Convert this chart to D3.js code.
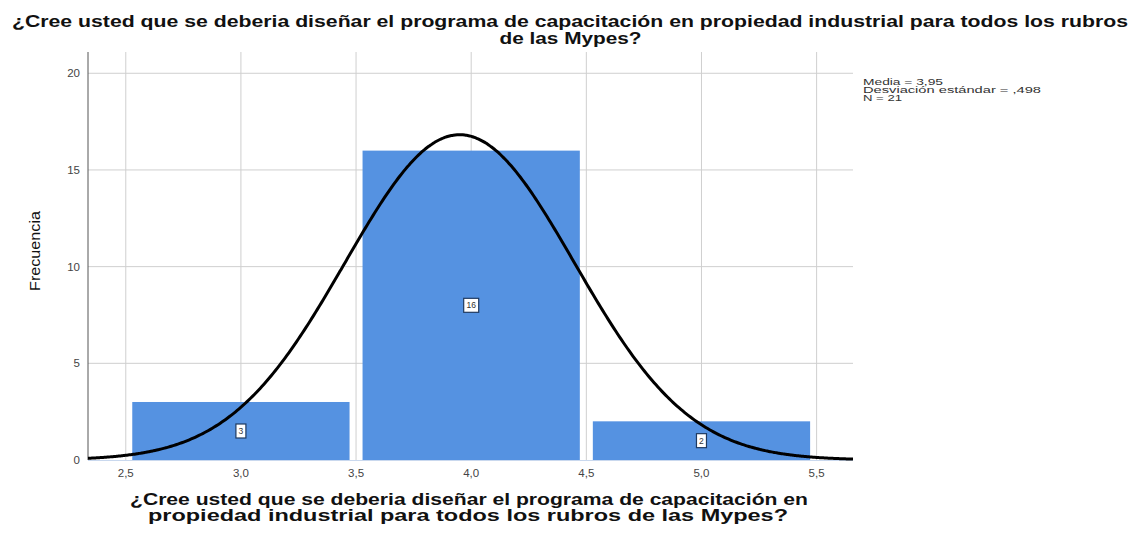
<!DOCTYPE html>
<html><head><meta charset="utf-8">
<script src="https://cdn.jsdelivr.net/npm/d3@7"></script>
<style>body{margin:0;background:#fff}svg{display:block}text{font-family:"Liberation Sans",Arial,sans-serif}</style>
</head><body><svg id="c" width="1131" height="533"></svg>
<script>
const binStarts = [2.5, 3.5, 4.5];
const binEnds = [3.5, 4.5, 5.5];
const counts = [3, 16, 2];
const xTicks = [2.5, 3.0, 3.5, 4.0, 4.5, 5.0, 5.5];
const yTicks = [0, 5, 10, 15, 20];
const mean = 3.95, sd = 0.498, N = 21, binWidth = 1;
const statLines = ["Media = 3,95", "Desviación estándar = ,498", "N = 21"];
const titleLines = ["¿Cree usted que se deberia diseñar el programa de capacitación en propiedad industrial para todos los rubros", "de las Mypes?"];
const xTitleLines = ["¿Cree usted que se deberia diseñar el programa de capacitación en", "propiedad industrial para todos los rubros de las Mypes?"];
const yTitle = "Frecuencia";

const svg = d3.select("#c");
const L = 88, R = 853, T = 52, B = 460;
const x = d3.scaleLinear().domain([2.336, 5.658]).range([L, R]);
const y = d3.scaleLinear().domain([0, 21.1]).range([B, T]);
const fmt = d => d3.format(".1f")(d).replace(".", ",");

// gridlines
svg.append("g").selectAll("line").data(xTicks).join("line")
  .attr("x1", d => x(d)).attr("x2", d => x(d)).attr("y1", T).attr("y2", B)
  .attr("stroke", "#cfcfcf").attr("stroke-width", 1);
svg.append("g").selectAll("line").data(yTicks.filter(d => d > 0)).join("line")
  .attr("x1", L).attr("x2", R).attr("y1", d => y(d)).attr("y2", d => y(d))
  .attr("stroke", "#cfcfcf").attr("stroke-width", 1);

// bars
const inset = 6.5;
svg.append("g").selectAll("rect").data(counts).join("rect")
  .attr("x", (d, i) => x(binStarts[i]) + inset)
  .attr("width", (d, i) => x(binEnds[i]) - x(binStarts[i]) - 2 * inset)
  .attr("y", d => y(d)).attr("height", d => y(0) - y(d))
  .attr("fill", "#5592e1");

// baseline
svg.append("line").attr("x1", L).attr("x2", R).attr("y1", B + 0.5).attr("y2", B + 0.5)
  .attr("stroke", "#c9d8ee").attr("stroke-width", 1);

// y axis line
svg.append("line").attr("x1", L).attr("x2", L).attr("y1", T).attr("y2", B)
  .attr("stroke", "#555").attr("stroke-width", 1);

// normal curve
const pts = d3.range(0, 401).map(i => {
  const xv = 2.336 + (5.658 - 2.336) * i / 400;
  const yv = N * binWidth / (sd * Math.sqrt(2 * Math.PI)) * Math.exp(-0.5 * ((xv - mean) / sd) ** 2);
  return [xv, yv];
});
svg.append("path").datum(pts)
  .attr("d", d3.line().x(d => x(d[0])).y(d => y(d[1])).curve(d3.curveBasis))
  .attr("fill", "none").attr("stroke", "#000").attr("stroke-width", 3);

// bar labels
const lab = svg.append("g").selectAll("g").data(counts).join("g")
  .attr("transform", (d, i) => `translate(${x((binStarts[i] + binEnds[i]) / 2)},${y(d / 2)})`);
lab.append("rect").attr("x", d => d >= 10 ? -7.5 : -5).attr("y", -7)
  .attr("width", d => d >= 10 ? 15 : 10).attr("height", 14)
  .attr("fill", "#fff").attr("stroke", "#1f3a60").attr("stroke-width", 1.2);
lab.append("text").text(d => d).attr("text-anchor", "middle").attr("y", 3)
  .attr("font-size", 8.5).attr("fill", "#333");

// tick labels
svg.append("g").selectAll("text").data(yTicks).join("text")
  .attr("x", 80).attr("y", d => y(d) + 4).attr("text-anchor", "end")
  .attr("font-size", 11.5).attr("fill", "#444").text(d => d);
svg.append("g").selectAll("text").data(xTicks).join("text")
  .attr("x", d => x(d)).attr("y", 477).attr("text-anchor", "middle")
  .attr("font-size", 11.5).attr("fill", "#444").text(fmt);

// titles
svg.append("text").attr("x", 12).attr("y", 27).attr("font-size", 17).attr("font-weight", "bold")
  .attr("textLength", 1116).attr("lengthAdjust", "spacingAndGlyphs").attr("fill", "#111").text(titleLines[0]);
svg.append("text").attr("x", 570.5).attr("y", 44).attr("text-anchor", "middle").attr("font-size", 17).attr("font-weight", "bold")
  .attr("textLength", 142).attr("lengthAdjust", "spacingAndGlyphs").attr("fill", "#111").text(titleLines[1]);

svg.append("text").attr("x", 130).attr("y", 505).attr("font-size", 16).attr("font-weight", "bold")
  .attr("textLength", 678).attr("lengthAdjust", "spacingAndGlyphs").attr("fill", "#111").text(xTitleLines[0]);
svg.append("text").attr("x", 148).attr("y", 521).attr("font-size", 16).attr("font-weight", "bold")
  .attr("textLength", 640).attr("lengthAdjust", "spacingAndGlyphs").attr("fill", "#111").text(xTitleLines[1]);

svg.append("text").attr("transform", "translate(40,251) rotate(-90)").attr("text-anchor", "middle")
  .attr("font-size", 15).attr("fill", "#111").attr("textLength", 80).attr("lengthAdjust", "spacingAndGlyphs").text(yTitle);

// stats
const statW = [80, 178, 39];
svg.append("g").selectAll("text").data(statLines).join("text")
  .attr("x", 863).attr("y", (d, i) => 85 + i * 8).attr("font-size", 8.5).attr("fill", "#333")
  .attr("textLength", (d, i) => statW[i]).attr("lengthAdjust", "spacingAndGlyphs").text(d => d);
</script></body></html>
